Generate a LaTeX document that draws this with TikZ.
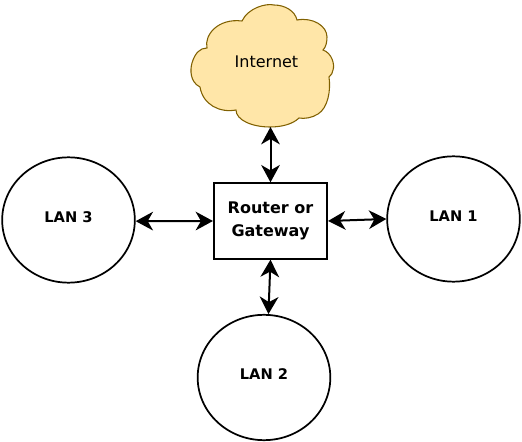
\documentclass[tikz,border=0pt]{standalone}
\usepackage{fontspec}
\setmainfont{DejaVu Sans}
\usetikzlibrary{arrows.meta,shapes.geometric}
\definecolor{cloudfill}{HTML}{FFE6A8}
\definecolor{cloudline}{HTML}{806000}
\begin{document}
\begin{tikzpicture}[x=0.75pt,y=-0.75pt,
lan/.style={draw,ellipse,line width=1.3pt,minimum width=99.5pt,minimum height=94pt,inner sep=0pt,font=\bfseries\fontsize{11}{13}\selectfont,text depth=5pt},
router/.style={draw,line width=1.5pt,minimum width=84.8pt,minimum height=56.5pt,inner sep=0pt,align=center,font=\bfseries\fontsize{12}{17}\selectfont},
link/.style={line width=1.5pt,{Stealth[inset=4pt,length=13pt,width=14pt]}-{Stealth[inset=4pt,length=13pt,width=14pt]}}]
\useasboundingbox (0,0) rectangle (522,442);
\draw[line width=0.8pt,draw=cloudline,fill=cloudfill] (242,21) .. controls (248,8) and (266,3) .. (274,5)
 .. controls (285,5) and (295,11) .. (297,20)
 .. controls (313,17) and (327,26) .. (327,37) .. controls (327,42) and (326,47) .. (323,50)
 .. controls (332,53) and (335,65) .. (333,70) .. controls (333,73) and (331,75) .. (329,77)
 .. controls (331,90) and (328,108) .. (318,114) .. controls (312,118) and (304,119) .. (299,118)
 .. controls (293,124) and (282,127) .. (270,127) .. controls (252,127) and (236,120) .. (236,110)
 .. controls (220,113) and (203,105) .. (200,87)
 .. controls (190,82) and (190,70) .. (192,63) .. controls (195,53) and (200,48) .. (207,48)
 .. controls (204,35) and (218,18) .. (242,21) -- cycle;
\node[font=\fontsize{12}{14}\selectfont] (internet) at (266.5,62) {Internet};
\coordinate (cloudbase) at (270.5,127);
\node[router] (gateway) at (270.5,221) {Router or\\Gateway};
\foreach \name/\x/\y/\txt in {lanone/453.5/219/LAN 1,lantwo/264/377.5/LAN 2,lanthree/68.5/220/LAN 3}
\node[lan] (\name) at (\x,\y) {\txt};
\draw[link] (cloudbase) -- (gateway.north);
\draw[link] (lanthree.359) -- (gateway.west);
\draw[link] (gateway.east) -- (lanone.west);
\draw[link] (gateway.south) -- (lantwo.86);
\end{tikzpicture}
\end{document}
